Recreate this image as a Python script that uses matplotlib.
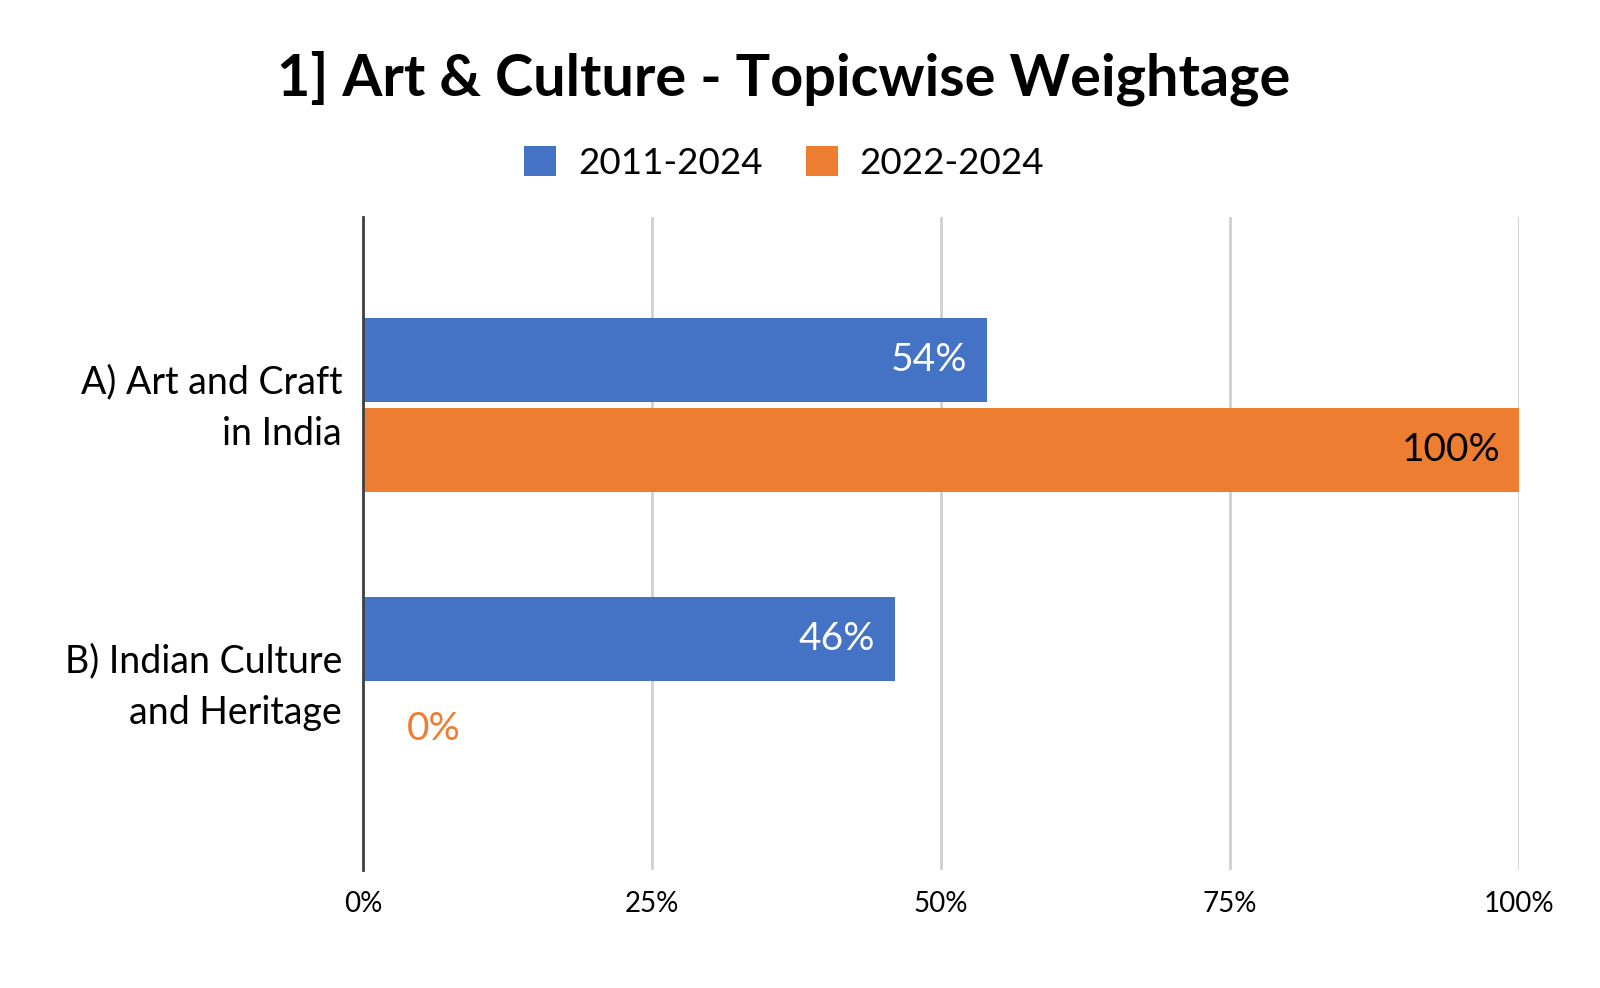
import numpy as np
import matplotlib.pyplot as plt
import matplotlib.transforms as mtransforms

# data
categories = ["A) Art and Craft\nin India", "B) Indian Culture\nand Heritage"]
series_names = ["2011-2024", "2022-2024"]
vals_2011_2024 = [54, 46]
vals_2022_2024 = [100, 0]
ticks = [0, 25, 50, 75, 100]

blue = "#4472C4"
orange = "#ED7D31"

plt.rcParams['font.family'] = ['Lato', 'DejaVu Sans']

fig = plt.figure(figsize=(16, 9.88), dpi=100)
ax = fig.add_axes([0.2269, 0.1194, 0.7225, 0.661])

y = np.arange(len(categories))
h = 0.30
gap = 0.011
b1 = ax.barh(y - h/2 - gap, vals_2011_2024, height=h, color=blue, label=series_names[0], zorder=3)
b2 = ax.barh(y + h/2 + gap, vals_2022_2024, height=h, color=orange, label=series_names[1], zorder=3)

# value labels
for rect, v in zip(b1, vals_2011_2024):
    ax.text(v - 1.7, rect.get_y() + rect.get_height()/2, f"{v}%", ha='right', va='center',
            color='white', fontsize=28, zorder=4)
for rect, v in zip(b2, vals_2022_2024):
    if v > 0:
        ax.text(v - 1.6, rect.get_y() + rect.get_height()/2, f"{v}%", ha='right', va='center',
                color='black', fontsize=28, zorder=4)
    else:
        ax.text(3.8, rect.get_y() + rect.get_height()/2, f"{v}%", ha='left', va='center',
                color=orange, fontsize=28, zorder=4)

ax.set_xlim(0, 100)
ax.set_ylim(1.667, -0.674)
ax.set_xticks(ticks)
ax.set_xticklabels([f"{t}%" for t in ticks], fontsize=20)
ax.set_yticks(y)
ax.set_yticklabels(categories, fontsize=27, ha='right', linespacing=1.55)
ax.tick_params(axis='x', length=0, pad=15)
ax.tick_params(axis='y', length=0, pad=15)

# nudge category labels up a little
shift = mtransforms.ScaledTranslation(0, 8/100, fig.dpi_scale_trans)
for lbl in ax.get_yticklabels():
    lbl.set_transform(lbl.get_transform() + shift)

ax.grid(axis='x', color='#D0D0D0', linewidth=2, zorder=0)
for s in ['top', 'right', 'bottom']:
    ax.spines[s].set_visible(False)
ax.spines['left'].set_color('#404040')
ax.spines['left'].set_linewidth(2)
ax.spines['left'].set_zorder(5)

fig.text(0.49, 0.921, "1] Art & Culture - Topicwise Weightage", ha='center', va='center',
         fontsize=41.5, fontweight='bold')
fig.legend(loc='center', bbox_to_anchor=(0.49, 0.835), ncol=2, frameon=False,
           fontsize=26.5, handlelength=0.87, handleheight=0.87, columnspacing=1.17, handletextpad=0.6)

fig.savefig("out.png", dpi=100)
